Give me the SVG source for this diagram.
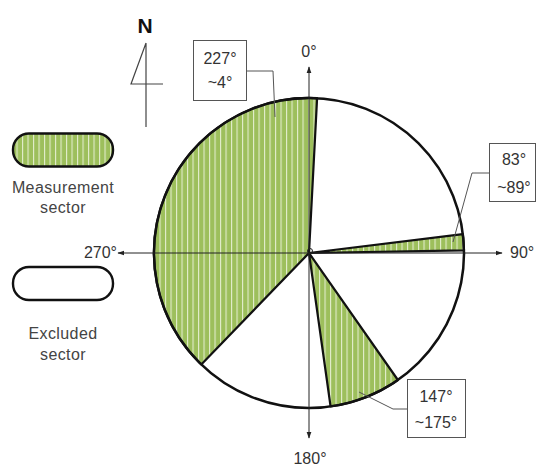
<svg xmlns="http://www.w3.org/2000/svg" width="537" height="466" viewBox="0 0 537 466">
<defs>
<pattern id="stripes" patternUnits="userSpaceOnUse" x="0" y="0" width="5.5" height="10">
<rect width="5.5" height="10" fill="#9dbf5c"/>
<rect x="0" y="0" width="1.1" height="10" fill="#e3edcd"/>
</pattern>
<marker id="arr" viewBox="0 0 10 10" refX="9" refY="5" markerWidth="7" markerHeight="7" orient="auto" markerUnits="userSpaceOnUse">
<path d="M0,1.5 L10,5 L0,8.5 Z" fill="#222"/>
</marker>
</defs>
<style>
.lbl{font-family:"Liberation Sans",Arial,sans-serif;font-size:16px;fill:#333}
.leg{font-family:"Liberation Sans",Arial,sans-serif;font-size:16px;fill:#444;letter-spacing:0.4px}
.box{fill:#fff;stroke:#555;stroke-width:1}
.lead{fill:none;stroke:#555;stroke-width:1}
.sec{fill:url(#stripes);stroke:#111;stroke-width:2.2;stroke-linejoin:round}
.rad{stroke:#111;stroke-width:2.2}
.axis{stroke:#222;stroke-width:1}
</style>
<rect width="537" height="466" fill="#fff"/>

<g id="north">
<text x="145" y="33" text-anchor="middle" font-family="Liberation Sans,Arial,sans-serif" font-size="21" font-weight="bold" fill="#111">N</text>
<path d="M146,43 L146,127 M146,43 L131,84 L163,84" fill="none" stroke="#444" stroke-width="1.2"/>
</g>

<g id="legend-measurement">
<rect x="13" y="133.5" width="100" height="33" rx="16" fill="url(#stripes)" stroke="#111" stroke-width="2.4"/>
<text class="leg" x="63" y="193" text-anchor="middle">Measurement</text>
<text class="leg" x="63" y="213" text-anchor="middle">sector</text>
</g>

<g id="legend-excluded">
<rect x="13" y="267" width="100" height="33" rx="16" fill="#fff" stroke="#111" stroke-width="2.4"/>
<text class="leg" x="63" y="339" text-anchor="middle">Excluded</text>
<text class="leg" x="63" y="360" text-anchor="middle">sector</text>
</g>

<g id="dial">
<circle cx="309" cy="253" r="155" fill="#fff"/>
<path class="sec" d="M309,253 L201.3,364.5 A155,155 0 0 1 317.1,98.2 Z"/>
<path class="sec" d="M309,253 L462.8,234.1 A155,155 0 0 1 464,250.3 Z"/>
<path class="sec" d="M309,253 L397.9,380 A155,155 0 0 1 330.6,406.5 Z"/>
<circle cx="309" cy="253" r="155" fill="none" stroke="#111" stroke-width="2.5"/>
</g>

<g id="connectors">
<line class="axis" x1="309" y1="253" x2="309" y2="67" marker-end="url(#arr)"/>
<line class="axis" x1="309" y1="253" x2="309" y2="438" marker-end="url(#arr)"/>
<line class="axis" x1="309" y1="253" x2="118" y2="253" marker-end="url(#arr)"/>
<line class="axis" x1="309" y1="253" x2="502" y2="253" marker-end="url(#arr)"/>
<circle cx="310" cy="251" r="2.5" fill="none" stroke="#222" stroke-width="1"/>
<polyline class="lead" points="246,71 273,71 275,117"/>
<polyline class="lead" points="489,173 472,173 453,242"/>
<polyline class="lead" points="407,409 393,409 359,392"/>
</g>

<g id="axis-labels">
<text class="lbl" x="309" y="57" text-anchor="middle">0°</text>
<text class="lbl" x="510" y="258">90°</text>
<text class="lbl" x="310" y="464" text-anchor="middle">180°</text>
<text class="lbl" x="117" y="258" text-anchor="end">270°</text>
</g>

<g id="label-227-4">
<rect class="box" x="193.5" y="40.5" width="53" height="60"/>
<text class="lbl" x="220" y="64" text-anchor="middle">227°</text>
<text class="lbl" x="220" y="88" text-anchor="middle">~4°</text>
</g>

<g id="label-83-89">
<rect class="box" x="489.5" y="143.5" width="46" height="58"/>
<text class="lbl" x="514" y="165" text-anchor="middle">83°</text>
<text class="lbl" x="514" y="193" text-anchor="middle">~89°</text>
</g>

<g id="label-147-175">
<rect class="box" x="407.5" y="379.5" width="58" height="58"/>
<text class="lbl" x="436" y="402" text-anchor="middle">147°</text>
<text class="lbl" x="436" y="428" text-anchor="middle">~175°</text>
</g>
</svg>
